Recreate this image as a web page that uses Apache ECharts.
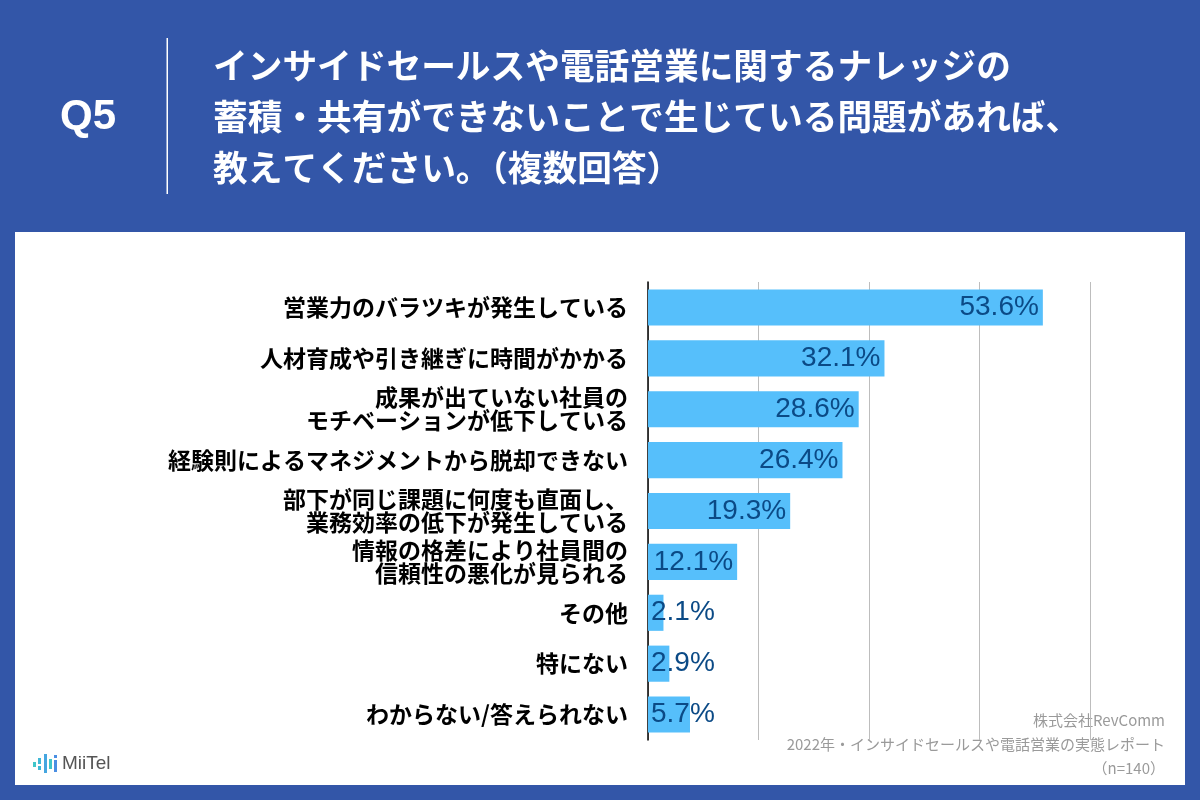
<!DOCTYPE html>
<html>
<head>
<meta charset="utf-8">
<script src="https://cdn.jsdelivr.net/npm/echarts@6/dist/echarts.min.js"></script>
<style>
  html, body { margin: 0; padding: 0; background: #3356a8; }
  #main { width: 1200px; height: 800px; }
</style>
</head>
<body>
<div id="main"></div>
<script>
// 回答項目（上から順）
var categories = [
  '営業力のバラツキが発生している',
  '人材育成や引き継ぎに時間がかかる',
  '成果が出ていない社員の\nモチベーションが低下している',
  '経験則によるマネジメントから脱却できない',
  '部下が同じ課題に何度も直面し、\n業務効率の低下が発生している',
  '情報の格差により社員間の\n信頼性の悪化が見られる',
  'その他',
  '特にない',
  'わからない/答えられない'
];
var values = [53.6, 32.1, 28.6, 26.4, 19.3, 12.1, 2.1, 2.9, 5.7];
var titleLines = [
  'インサイドセールスや電話営業に関するナレッジの',
  '蓄積・共有ができないことで生じている問題があれば、',
  '教えてください。（複数回答）'
];
var footerLines = [
  '株式会社RevComm',
  '2022年・インサイドセールスや電話営業の実態レポート',
  '（n=140）'
];

var JP = '"Noto Sans CJK JP", "Noto Sans", sans-serif';
var NUM = '"Liberation Sans", Arial, sans-serif';

var chart = echarts.init(document.getElementById('main'));

var barData = values.map(function (v) {
  return {
    value: v,
    label: { position: v < 10 ? 'insideLeft' : 'insideRight', distance: v < 10 ? 3 : 4 }
  };
});

var graphics = [
  { type: 'rect', shape: { x: 15, y: 232, width: 1170, height: 553 }, style: { fill: '#ffffff' }, z: -10 },
  { type: 'text', x: 60, y: 117, style: { text: 'Q5', fill: '#fff', font: 'bold 42px ' + NUM, verticalAlign: 'middle' } },
  { type: 'rect', shape: { x: 166.5, y: 38, width: 1.5, height: 156 }, style: { fill: '#ffffff' } },
  // MiiTel ロゴ
  { type: 'rect', shape: { x: 33, y: 762, width: 3, height: 5 }, style: { fill: '#3fc6c9' } },
  { type: 'rect', shape: { x: 38, y: 758, width: 3, height: 6 }, style: { fill: '#3fb8d6' } },
  { type: 'rect', shape: { x: 38, y: 766, width: 3, height: 4 }, style: { fill: '#3fb8d6' } },
  { type: 'rect', shape: { x: 44, y: 754, width: 3, height: 19 }, style: { fill: '#45a6e0' } },
  { type: 'rect', shape: { x: 49, y: 759, width: 3, height: 10 }, style: { fill: '#3fc6c9' } },
  { type: 'rect', shape: { x: 54, y: 755, width: 3, height: 3 }, style: { fill: '#4a8fe3' } },
  { type: 'rect', shape: { x: 54, y: 760, width: 3, height: 12 }, style: { fill: '#4a8fe3' } },
  { type: 'text', x: 62, y: 764, style: { text: 'MiiTel', fill: '#555', font: '500 19px ' + NUM, verticalAlign: 'middle' } }
];
titleLines.forEach(function (t, i) {
  graphics.push({ type: 'text', x: 213, y: 66 + i * 51, style: { text: t, fill: '#fff', font: 'bold 34.7px ' + JP, verticalAlign: 'middle' } });
});
footerLines.forEach(function (t, i) {
  graphics.push({
    type: 'text', x: 1165, y: 720 + i * 24,
    style: { text: t, fill: '#9a9a9a', font: '15px ' + JP, align: 'right', verticalAlign: 'middle' }
  });
});

var option = {
  backgroundColor: '#3356a8',
  animation: false,
  grid: { left: 648, right: 110, top: 282, bottom: 60 },
  xAxis: {
    type: 'value',
    min: 0,
    max: 60,
    interval: 15,
    axisLabel: { show: false },
    axisLine: { show: false },
    axisTick: { show: false },
    splitLine: { lineStyle: { color: '#bdbdbd', width: 1 } }
  },
  yAxis: {
    type: 'category',
    inverse: true,
    data: categories,
    axisTick: { show: false },
    axisLine: { lineStyle: { color: '#000', width: 1.5 } },
    axisLabel: {
      color: '#000',
      fontFamily: JP,
      fontWeight: 'bold',
      fontSize: 23,
      lineHeight: 23,
      margin: 20,
      align: 'right'
    }
  },
  series: [{
    type: 'bar',
    data: barData,
    barWidth: '71%',
    itemStyle: { color: '#56bffb' },
    label: {
      show: true,
      formatter: '{c}%',
      color: '#0b4a86',
      fontFamily: NUM,
      fontSize: 28
    }
  }],
  graphic: graphics
};

chart.setOption(option);
</script>
</body>
</html>
